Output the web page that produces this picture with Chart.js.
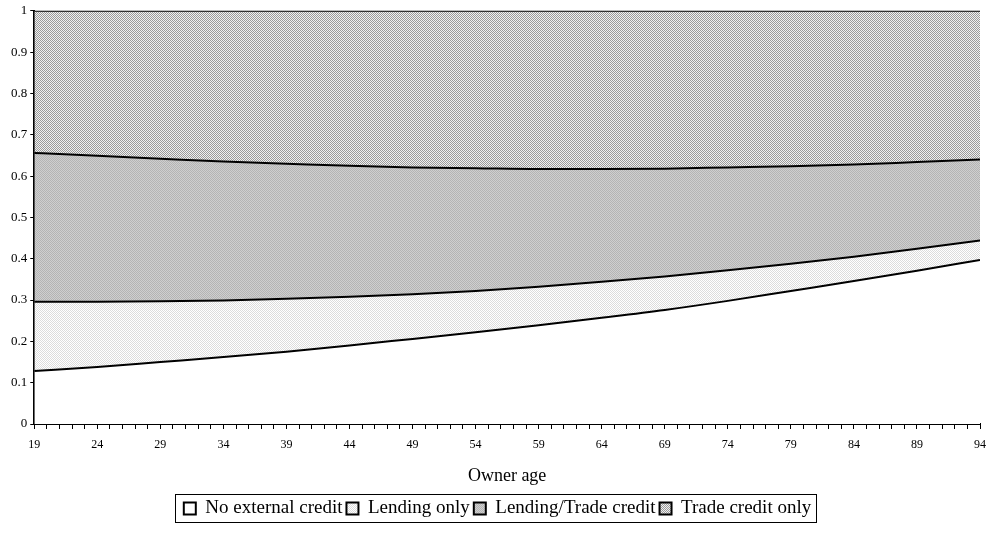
<!DOCTYPE html>
<html>
<head>
<meta charset="utf-8">
<script src="https://cdn.jsdelivr.net/npm/chart.js@4/dist/chart.umd.min.js"></script>
<style>
  html, body { margin: 0; padding: 0; background: #fff; }
  #wrap { width: 987px; height: 540px; }
</style>
</head>
<body>
<div id="wrap"><canvas id="myChart" width="987" height="540"></canvas></div>
<script>
// owner age (every 5 years, axis has yearly ticks)
const ages = [19, 24, 29, 34, 39, 44, 49, 54, 59, 64, 69, 74, 79, 84, 89, 94];

// shares (stacked, sum to 1)
const noExternal  = [0.128, 0.138, 0.150, 0.162, 0.175, 0.190, 0.206, 0.222, 0.239, 0.257, 0.276, 0.298, 0.322, 0.346, 0.371, 0.397];
const lendingOnly = [0.168, 0.158, 0.147, 0.137, 0.128, 0.118, 0.108, 0.100, 0.093, 0.087, 0.081, 0.074, 0.066, 0.059, 0.053, 0.047];
const lendTrade   = [0.360, 0.353, 0.345, 0.336, 0.327, 0.317, 0.307, 0.297, 0.285, 0.273, 0.261, 0.249, 0.236, 0.223, 0.210, 0.196];
const tradeOnly   = [0.344, 0.351, 0.358, 0.365, 0.370, 0.375, 0.379, 0.381, 0.383, 0.383, 0.382, 0.379, 0.376, 0.372, 0.366, 0.360];

const seriesNames = ["No external credit", "Lending only", "Lending/Trade credit", "Trade credit only"];

const serif = "'Liberation Serif', 'Times New Roman', serif";

function checker(a, b) {
	const c = document.createElement("canvas");
	c.width = 2; c.height = 2;
	const g = c.getContext("2d");
	g.fillStyle = b; g.fillRect(0, 0, 2, 2);
	g.fillStyle = a; g.fillRect(0, 0, 1, 1); g.fillRect(1, 1, 1, 1);
	return g.createPattern(c, "repeat");
}

const ctx = document.getElementById("myChart").getContext("2d");
const fills = ["#ffffff", checker("#dcdcdc", "#ffffff"), checker("#b4b4b4", "#cfcfcf"), checker("#9a9a9a", "#f0f0f0")];
const values = [noExternal, lendingOnly, lendTrade, tradeOnly];

const legendBorder = {
	id: "legendBorder",
	afterDraw(chart) {
		const boxes = chart.legend.legendHitBoxes;
		if (!boxes || !boxes.length) return;
		let l = Infinity, r = -Infinity, t = Infinity, b = -Infinity;
		boxes.forEach(h => {
			l = Math.min(l, h.left); r = Math.max(r, h.left + h.width);
			t = Math.min(t, h.top); b = Math.max(b, h.top + h.height);
		});
		const c = chart.ctx;
		c.save();
		c.strokeStyle = "#000";
		c.lineWidth = 1;
		c.strokeRect(Math.round(l) - 8.5, Math.round(t) - 4.5, Math.round(r - l) + 14, Math.round(b - t) + 9);
		c.restore();
	}
};

new Chart(ctx, {
	type: "line",
	data: {
		datasets: values.map((v, i) => ({
			label: seriesNames[i],
			data: ages.map((a, j) => ({ x: a, y: v[j] })),
			backgroundColor: fills[i],
			borderColor: "#000",
			borderWidth: 2,
			pointRadius: 0,
			tension: 0.4,
			cubicInterpolationMode: "monotone",
			fill: i === 0 ? "origin" : "-1"
		}))
	},
	options: {
		responsive: false,
		animation: false,
		layout: { padding: { top: 8, right: 0, bottom: 12, left: 8 } },
		plugins: {
			tooltip: { enabled: false },
			legend: {
				position: "bottom",
				labels: {
					color: "#000",
					font: { family: serif, size: 19 },
					boxWidth: 12,
					boxHeight: 12,
					padding: 4
				}
			}
		},
		scales: {
			x: {
				type: "linear",
				min: 19,
				max: 94,
				afterFit: s => { s.paddingRight = 7; },
				grid: { drawOnChartArea: false, color: "#000", tickLength: 5 },
				border: { color: "#000", width: 2 },
				ticks: {
					stepSize: 1,
					autoSkip: false,
					maxRotation: 0,
					color: "#000",
					padding: 9,
					font: { family: serif, size: 12 },
					callback: v => ((v - 19) % 5 === 0 ? String(v) : "")
				},
				title: {
					display: true,
					text: "Owner age",
					color: "#000",
					font: { family: serif, size: 18 },
					padding: { top: 4, bottom: 8 }
				}
			},
			y: {
				stacked: true,
				min: 0,
				max: 1,
				grid: { drawOnChartArea: false, color: "#000", tickLength: 4 },
				border: { color: "#000", width: 2 },
				ticks: {
					stepSize: 0.1,
					color: "#000",
					padding: 3,
					font: { family: serif, size: 13 },
					callback: v => String(Math.round(v * 10) / 10)
				}
			}
		}
	},
	plugins: [legendBorder]
});
</script>
</body>
</html>
